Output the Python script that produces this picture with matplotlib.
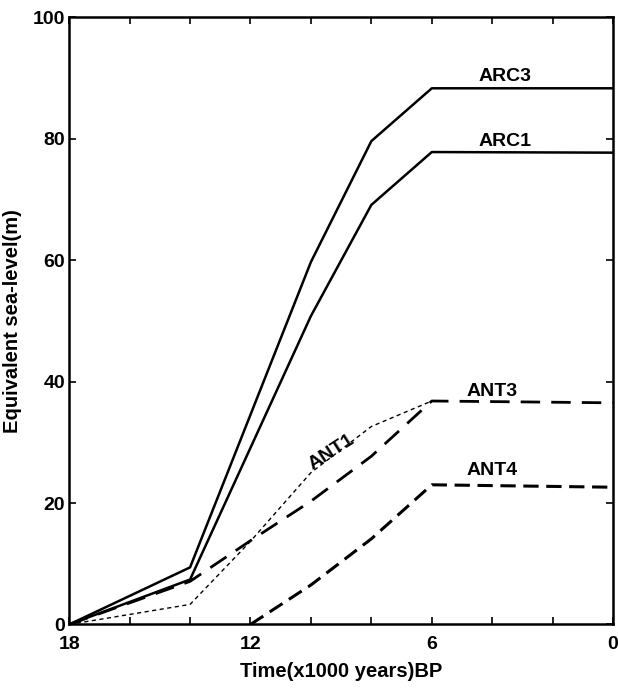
import numpy as np
import matplotlib.pyplot as plt

plt.rcParams['font.family'] = 'Liberation Sans'
plt.rcParams['font.weight'] = 'bold'

# time in kyr BP and equivalent sea level (m)
arc3_t = [18, 14, 10, 8, 6, 0]
arc3_y = [0, 9.4, 59.7, 79.6, 88.3, 88.3]

arc1_t = [18, 14, 10, 8, 6, 0]
arc1_y = [0, 7.4, 50.8, 69.1, 77.8, 77.7]

ant3_t = [18, 14, 12, 10, 8, 6, 0]
ant3_y = [0, 7.1, 13.8, 20.3, 27.7, 36.8, 36.5]

ant1_t = [18, 14, 12, 10, 8, 6]
ant1_y = [0, 3.3, 13.7, 25.0, 32.6, 36.8]

ant4_t = [12, 10, 8, 6, 0]
ant4_y = [0, 6.5, 14.1, 23.0, 22.6]

fig = plt.figure(figsize=(6.18, 6.90), dpi=100)
ax = fig.add_axes([0.112, 0.095, 0.880, 0.880])

ax.plot(arc3_t, arc3_y, color='black', lw=1.8)
ax.plot(arc1_t, arc1_y, color='black', lw=1.8)
ax.plot(ant3_t, ant3_y, color='black', lw=2.0, dashes=(7, 4))
ax.plot(ant1_t, ant1_y, color='black', lw=1.0, dashes=(3, 2.5))
ax.plot(ant4_t, ant4_y, color='black', lw=2.2, dashes=(5, 2.5))

fs = 14
ax.text(3.57, 90.3, 'ARC3', fontsize=fs, fontweight='bold', ha='center', va='center')
ax.text(3.57, 79.6, 'ARC1', fontsize=fs, fontweight='bold', ha='center', va='center')
ax.text(4.02, 38.4, 'ANT3', fontsize=fs, fontweight='bold', ha='center', va='center')
ax.text(4.02, 25.3, 'ANT4', fontsize=fs, fontweight='bold', ha='center', va='center')
ax.text(9.33, 28.3, 'ANT1', fontsize=fs, fontweight='bold', ha='center', va='center', rotation=33)

ax.set_xlim(18, 0)
ax.set_ylim(0, 100)
ax.set_xticks(np.arange(18, -1, -2), minor=True)
ax.set_xticks([18, 12, 6, 0])
ax.set_yticks([0, 20, 40, 60, 80, 100])
ax.tick_params(which='both', direction='in', top=True, right=True, width=1.2)
ax.tick_params(which='major', length=5, labelsize=fs)
ax.tick_params(axis='x', which='major', pad=8)
ax.tick_params(axis='y', which='major', pad=3)
ax.tick_params(which='minor', length=5)
for s in ax.spines.values():
    s.set_linewidth(1.8)

ax.set_xlabel('Time(x1000 years)BP', fontsize=14.5, fontweight='bold', labelpad=7)
ax.set_ylabel('Equivalent sea-level(m)', fontsize=14.5, fontweight='bold', labelpad=8)

fig.savefig('out.png', dpi=100)
